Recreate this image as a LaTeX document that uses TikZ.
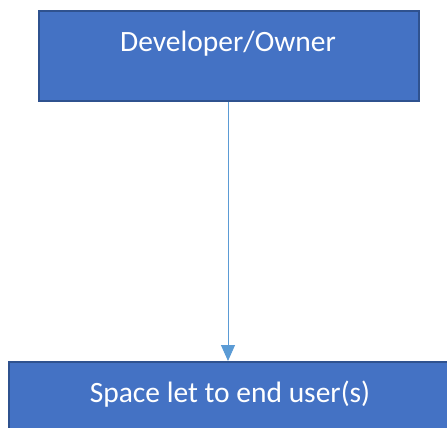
\documentclass[tikz,border=0pt]{standalone}
\usepackage{fontspec}
\setmainfont{Carlito}
\usetikzlibrary{arrows.meta}

\definecolor{boxfill}{HTML}{4472C4}
\definecolor{boxline}{HTML}{2F528F}
\definecolor{linkline}{HTML}{5B9BD5}

\tikzset{
	party/.style = {rectangle, fill = boxfill, draw = boxline, line width = 2pt},
	partytext/.style = {text = white, font = \fontsize{29.5}{34}\selectfont},
	link/.style = {draw = linkline, line width = 1pt, -{Triangle[length = 16pt, width = 14pt]}}
}

\begin{document}
\begin{tikzpicture}[x = 1pt, y = -1pt]
	
	% Frame
	
	\useasboundingbox (0, 0) rectangle (447, 428);
	\clip (0, 0) rectangle (447, 428);
	
	% The two parties
	
	\node [party, anchor = north west, minimum width = 380pt, minimum height = 90pt] (owner) at (38, 10) {};
	\node [partytext] (ownertext) at (228, 44) {Developer/Owner};
	
	\node [party, anchor = north west, minimum width = 460pt, minimum height = 100pt] (user) at (8, 361) {};
	\node [partytext] (usertext) at (230, 394) {Space let to end user(s)};
	
	% Link
	
	\draw [link] (owner.south -| 228, 0) -- (user.north -| 228, 0);

\end{tikzpicture}
\end{document}
